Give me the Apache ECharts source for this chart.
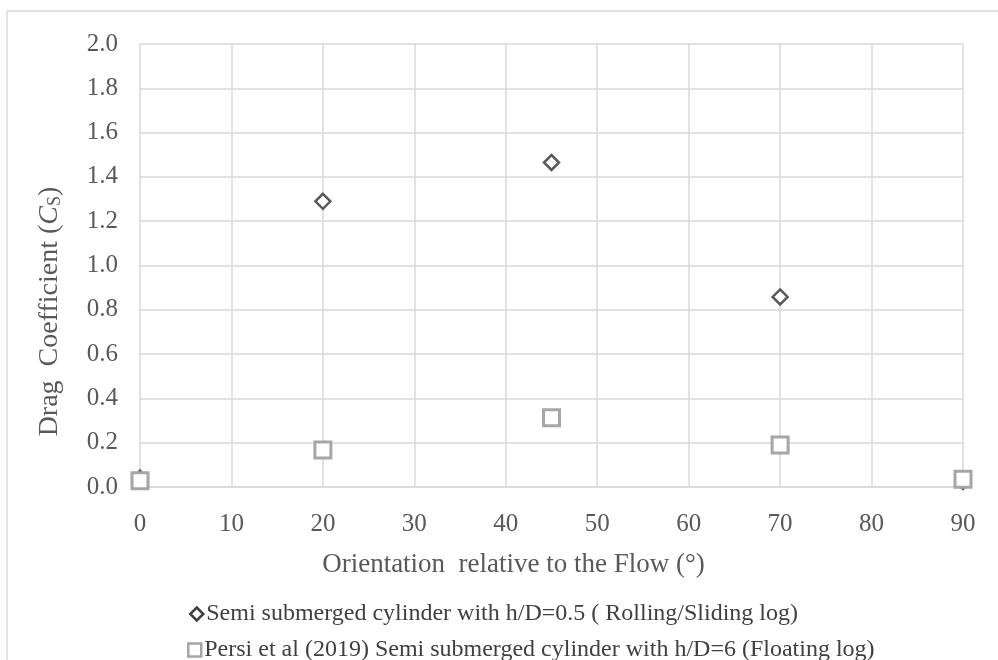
<!DOCTYPE html>
<html><head><meta charset="utf-8">
<script src="https://cdn.jsdelivr.net/npm/echarts@6/dist/echarts.min.js"></script>
<style>html,body{margin:0;padding:0;background:#fff}#c{width:998px;height:660px}</style>
</head><body><div id="c"></div>
<script>
const orientations = [0, 20, 45, 70, 90];
const rollingCd = [0.04, 1.29, 1.465, 0.858, 0.025];
const floatingCd = [0.028, 0.167, 0.313, 0.19, 0.035];
const seriesNames = ['Semi submerged cylinder with h/D=0.5 ( Rolling/Sliding log)', 'Persi et al (2019) Semi submerged cylinder with h/D=6 (Floating log)'];
const xTitle = 'Orientation  relative to the Flow (°)';

const font = '"Liberation Serif", "Times New Roman", serif';
const legendText = { color: '#404040', fontSize: 24, fontFamily: font, padding: [0, 0, 0, -2] };
const chart = echarts.init(document.getElementById('c'));
chart.setOption({
  animation: false,
  backgroundColor: '#fff',
  textStyle: { fontFamily: font },
  grid: { left: 140, right: 35, top: 44, bottom: 173, containLabel: false },
  graphic: [{ type: 'rect', shape: { x: 7, y: 11, width: 1000, height: 660 }, style: { fill: 'none', stroke: '#d9d9d9', lineWidth: 1.5 }, silent: true }],
  xAxis: {
    type: 'value', min: 0, max: 90, interval: 10,
    axisLine: { show: true, lineStyle: { color: '#d9d9d9', width: 1.5 } },
    axisTick: { show: false },
    splitLine: { show: true, lineStyle: { color: '#d9d9d9', width: 1.5 } },
    axisLabel: { color: '#595959', fontSize: 25, fontFamily: font, margin: 25 },
    name: xTitle, nameLocation: 'middle', nameGap: 64,
    nameTextStyle: { color: '#595959', fontSize: 27, fontFamily: font, padding: [0, 76, 0, 0] }
  },
  yAxis: {
    type: 'value', min: 0, max: 2, interval: 0.2,
    axisLine: { show: false }, axisTick: { show: false },
    splitLine: { show: true, lineStyle: { color: '#d9d9d9', width: 1.5 } },
    axisLabel: { color: '#595959', fontSize: 25, fontFamily: font, margin: 22, formatter: v => v.toFixed(1) },
    name: 'Drag  Coefficient ({i|C}{s|S})', nameLocation: 'middle', nameGap: 76,
    nameTextStyle: { color: '#595959', fontSize: 28, fontFamily: font, padding: [0, 92, 0, 0],
      rich: { i: { fontStyle: 'italic', fontSize: 28, color: '#595959', fontFamily: font }, s: { fontSize: 18, color: '#595959', fontFamily: font, verticalAlign: 'bottom', padding: [10, 0, 0, 0] } } }
  },
  legend: [
    { orient: 'horizontal', left: 189, top: 602, padding: 0, itemWidth: 13, itemHeight: 13, textStyle: legendText,
      data: [{ name: seriesNames[0], icon: 'diamond', itemStyle: { color: '#fff', borderColor: '#404040', borderWidth: 2.5 } }] },
    { orient: 'horizontal', left: 187, top: 638, padding: 0, itemWidth: 13, itemHeight: 13, textStyle: legendText,
      data: [{ name: seriesNames[1], icon: 'rect', itemStyle: { color: '#fff', borderColor: '#a6a6a6', borderWidth: 2.5 } }] }
  ],
  series: [
    { name: seriesNames[0], type: 'scatter', symbol: 'diamond', symbolSize: 15,
      itemStyle: { color: '#fff', borderColor: '#595959', borderWidth: 2.5, opacity: 1 },
      data: orientations.map((x, i) => [x, rollingCd[i]]), z: 2 },
    { name: seriesNames[1], type: 'scatter', symbol: 'rect', symbolSize: 16,
      itemStyle: { color: '#fff', borderColor: '#a6a6a6', borderWidth: 3, opacity: 1 },
      data: orientations.map((x, i) => [x, floatingCd[i]]), z: 3 }
  ]
});
</script></body></html>
